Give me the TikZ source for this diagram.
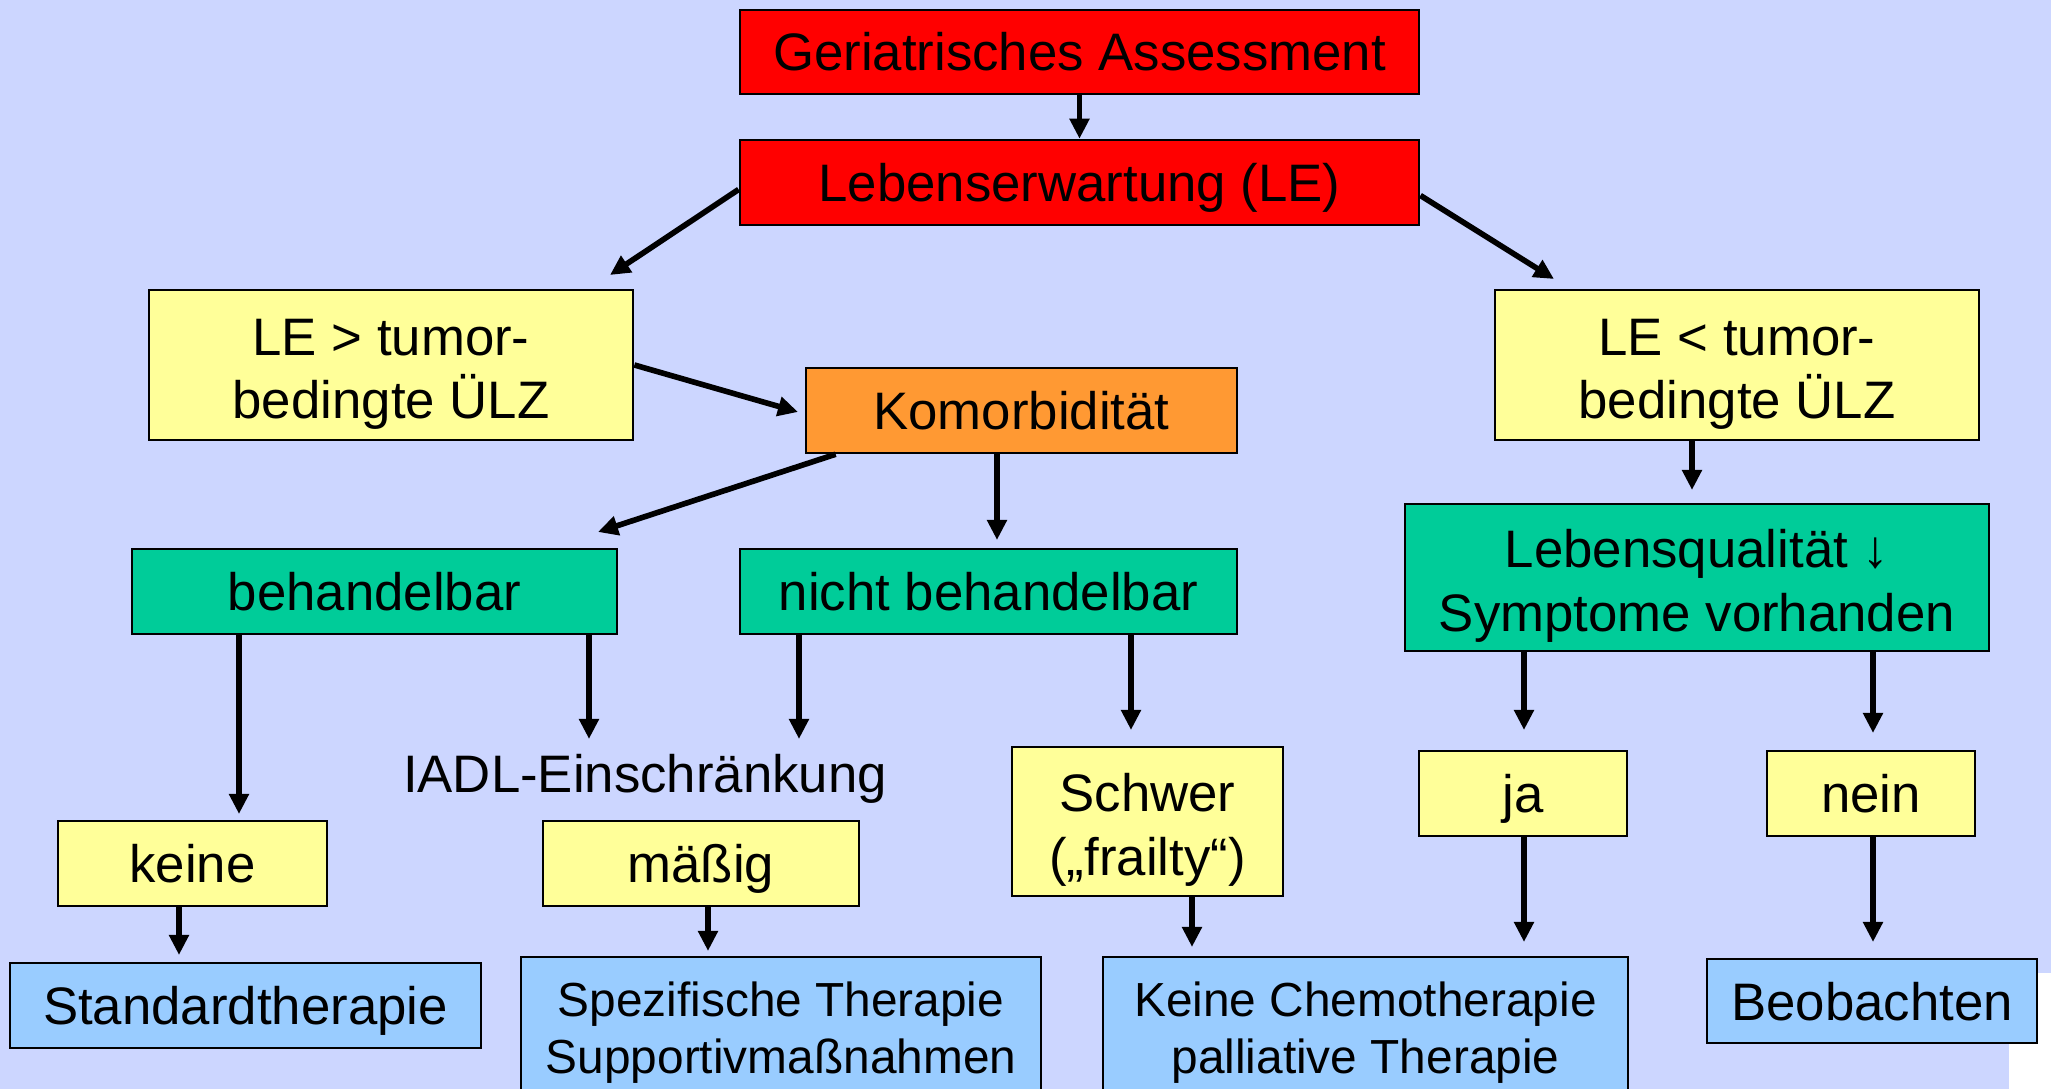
\documentclass[tikz,border=0pt]{standalone}
\usepackage{fontspec}
\setmainfont{Liberation Sans}
\usetikzlibrary{arrows.meta}
\definecolor{bglav}{RGB}{204,214,255}
\definecolor{boxred}{RGB}{255,0,0}
\definecolor{boxyel}{RGB}{255,255,153}
\definecolor{boxora}{RGB}{255,153,51}
\definecolor{boxgrn}{RGB}{0,204,153}
\definecolor{boxblu}{RGB}{153,204,255}
\tikzset{
  box/.style={draw=black, line width=0.7pt, inner sep=0pt, align=center,
    font=\fontsize{15}{18}\selectfont},
  one/.style={text height=0.38cm, text depth=0pt},
  two/.style={text height=1.17cm, text depth=0.1cm},
  small/.style={font=\fontsize{13.6}{16.3}\selectfont},
  pf/.style={line width=1.6pt, -{Triangle[length=0.2cm,width=0.19cm]}},
}

\begin{document}
\begin{tikzpicture}[x=0.01cm, y=-0.01cm]
\fill[bglav] (0,0) rectangle (2051,1089);
\fill[white] (2009,973) rectangle (2051,1089);
\useasboundingbox (0,0) rectangle (2051,1089);

% top
\node[box, one, fill=boxred, minimum width=6.79cm, minimum height=0.84cm] (ga) at (1079.5,52) {Geriatrisches Assessment};
\node[box, one, fill=boxred, minimum width=6.79cm, minimum height=0.85cm] (le) at (1079.5,182.5) {Lebenserwartung (LE)};

% second row
\node[box, two, fill=boxyel, minimum width=4.84cm, minimum height=1.5cm] (legt) at (391,365) {LE > tumor-\\bedingte ÜLZ};
\node[box, two, fill=boxyel, minimum width=4.84cm, minimum height=1.5cm] (lelt) at (1737,365) {LE < tumor-\\bedingte ÜLZ};
\node[box, one, fill=boxora, minimum width=4.31cm, minimum height=0.85cm] (kom) at (1021.5,410.5) {Komorbidität};

% third row
\node[box, one, fill=boxgrn, minimum width=4.85cm, minimum height=0.85cm] (beh) at (374.5,591.5) {behandelbar};
\node[box, one, fill=boxgrn, minimum width=4.97cm, minimum height=0.85cm] (nbeh) at (988.5,591.5) {nicht behandelbar};
\node[box, two, fill=boxgrn, minimum width=5.84cm, minimum height=1.47cm] (lq) at (1697,577.5) {Lebensqualität ↓\\Symptome vorhanden};

% fourth row
\node[font=\fontsize{15}{18}\selectfont, inner sep=0pt] (iadl) at (645,779) {IADL-Einschränkung};
\node[box, one, fill=boxyel, minimum width=2.69cm, minimum height=0.85cm] (keine) at (192.5,863.5) {keine};
\node[box, one, fill=boxyel, minimum width=3.16cm, minimum height=0.85cm] (massig) at (701,863.5) {mäßig};
\node[box, two, fill=boxyel, minimum width=2.71cm, minimum height=1.49cm] (schwer) at (1147.5,821.5) {Schwer\\(„frailty“)};
\node[box, one, fill=boxyel, minimum width=2.08cm, minimum height=0.85cm] (ja) at (1523,793.5) {ja};
\node[box, one, fill=boxyel, minimum width=2.08cm, minimum height=0.85cm] (nein) at (1871,793.5) {nein};

% bottom row
\node[box, one, fill=boxblu, minimum width=4.71cm, minimum height=0.85cm] (std) at (245.5,1005.5) {Standardtherapie};
\node[box, small, fill=boxblu, minimum width=5.2cm, minimum height=1.51cm] (spez) at (781,1032.5) {Spezifische Therapie\\Supportivmaßnahmen};
\node[box, small, fill=boxblu, minimum width=5.25cm, minimum height=1.51cm] (kchemo) at (1365.5,1032.5) {Keine Chemotherapie\\palliative Therapie};
\node[box, one, fill=boxblu, minimum width=3.3cm, minimum height=0.84cm] (beob) at (1872,1001) {Beobachten};

% arrow tips
\coordinate (tL) at (610,275);
\coordinate (tR) at (1554,279);
\coordinate (tK) at (798,412);
\coordinate (tB) at (598,532);
\coordinate (tN) at (997,540);
\coordinate (tQ) at (1692,490);
\coordinate (tK1) at (239,814);
\coordinate (tI1) at (589,739);
\coordinate (tI2) at (799,739);
\coordinate (tS) at (1131,730);
\coordinate (tJ) at (1524,730);
\coordinate (tNe) at (1873,733);
\coordinate (tSt) at (179,955);
\coordinate (tSp) at (708,951);
\coordinate (tC1) at (1192,947);
\coordinate (tC2) at (1524,942);
\coordinate (tBe) at (1873,942);

\draw[pf] (ga) -- (le);
\draw[pf] ([yshift=-0.07cm]le.west) -- (tL);
\draw[pf] ([yshift=-0.13cm]le.east) -- (tR);
\draw[pf] (legt.east) -- (tK);
\draw[pf] ([xshift=0.31cm]kom.south west) -- (tB);
\foreach \a/\b in {kom/tN, lelt/tQ, beh/tK1, beh/tI1, nbeh/tI2, nbeh/tS,
                   lq/tJ, lq/tNe, keine/tSt, massig/tSp, schwer/tC1, ja/tC2, nein/tBe}
  \draw[pf] (\a.south -| \b) -- (\b);
\end{tikzpicture}
\end{document}
